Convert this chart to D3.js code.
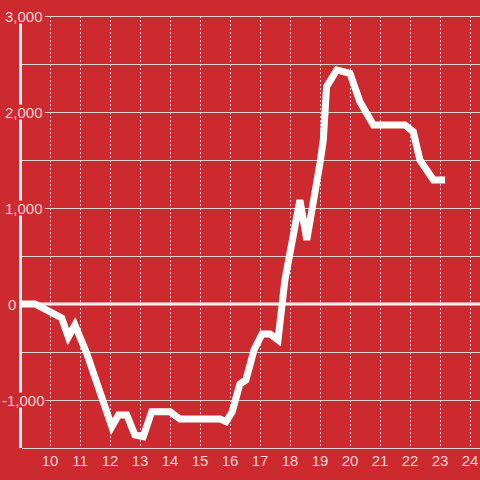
<!DOCTYPE html>
<html><head><meta charset="utf-8">
<script src="https://cdn.jsdelivr.net/npm/d3@7/dist/d3.min.js"></script>
<style>html,body{margin:0;padding:0;background:#CC2A2F;}svg{display:block;}</style>
</head><body>
<script>
const hours = [9.0, 9.5, 10.39, 10.61, 10.83, 11.22, 12.06, 12.28, 12.56, 12.83, 13.11, 13.39, 14.0, 14.33, 15.67, 15.87, 16.07, 16.33, 16.53, 16.8, 17.07, 17.33, 17.6, 17.83, 18.33, 18.56, 19.0, 19.11, 19.22, 19.56, 20.0, 20.33, 20.78, 21.83, 22.11, 22.33, 22.78, 23.17];
const values = [0, 0, -146, -344, -219, -510, -1278, -1156, -1156, -1365, -1382, -1122, -1122, -1198, -1198, -1225, -1125, -833, -792, -479, -312, -312, -375, 250, 1083, 667, 1469, 1708, 2264, 2438, 2403, 2107, 1865, 1865, 1795, 1500, 1292, 1292];
const xTicks = [10, 11, 12, 13, 14, 15, 16, 17, 18, 19, 20, 21, 22, 23, 24];
const yMajorTicks = [3000, 2000, 1000, 0, -1000];
const yMinorTicks = [2500, 1500, 500, -500];

const W = 480, H = 480;
const svg = d3.select("body").append("svg").attr("width", W).attr("height", H);
svg.append("rect").attr("width", W).attr("height", H).attr("fill", "#CC2A2F");

const x = d3.scaleLinear().domain([9, 24 + 1/3]).range([20, 480]);
const y = d3.scaleLinear().domain([-1500, 3000]).range([448, 16]);

const labelColor = "#f4d4d4";
const gridColor = "#d8d0d0";
const font = "Liberation Sans, Arial, sans-serif";

// vertical dotted grid
svg.append("g").selectAll("line").data(xTicks).join("line")
  .attr("x1", d => x(d) + 0.5).attr("x2", d => x(d) + 0.5)
  .attr("y1", y(3000)).attr("y2", y(-1500))
  .attr("stroke", gridColor).attr("stroke-width", 1).attr("stroke-dasharray", "2,2");

// minor horizontal grid
svg.append("g").selectAll("line").data(yMinorTicks).join("line")
  .attr("x1", 22).attr("x2", W)
  .attr("y1", d => Math.round(y(d)) + 0.5).attr("y2", d => Math.round(y(d)) + 0.5)
  .attr("stroke", gridColor).attr("stroke-width", 1);

// major horizontal grid (excluding 0)
svg.append("g").selectAll("line").data(yMajorTicks.filter(d => d !== 0)).join("line")
  .attr("x1", 45).attr("x2", W)
  .attr("y1", d => Math.round(y(d)) + 0.5).attr("y2", d => Math.round(y(d)) + 0.5)
  .attr("stroke", gridColor).attr("stroke-width", 1);

// x axis line
svg.append("line").attr("x1", 22).attr("x2", W)
  .attr("y1", y(-1500) + 0.5).attr("y2", y(-1500) + 0.5)
  .attr("stroke", gridColor).attr("stroke-width", 1);

// y axis line
svg.append("line").attr("x1", 20.5).attr("x2", 20.5)
  .attr("y1", y(3000)).attr("y2", y(-1500))
  .attr("stroke", "#f7f2f2").attr("stroke-width", 3);

// zero line
svg.append("line").attr("x1", 19).attr("x2", W)
  .attr("y1", y(0)).attr("y2", y(0))
  .attr("stroke", "#f7f2f2").attr("stroke-width", 3);

// x labels
const fmt = d3.format(",");
svg.append("g").selectAll("text").data(xTicks).join("text")
  .attr("x", d => x(d)).attr("y", 466)
  .attr("text-anchor", "middle")
  .attr("font-family", font).attr("font-size", 15)
  .attr("fill", labelColor).text(d => d);

// y labels with background
const yl = svg.append("g").selectAll("g").data(yMajorTicks).join("g");
yl.append("text")
  .attr("x", d => d === 0 ? 8 : (d < 0 ? 2 : 5)).attr("y", d => y(d) + 5.5)
  .attr("font-family", font).attr("font-size", 15)
  .attr("fill", labelColor).text(d => fmt(d).replace("−", "-"));
yl.each(function() {
  const g = d3.select(this);
  const bb = g.select("text").node().getBBox();
  g.insert("rect", "text").attr("x", bb.x - 1).attr("y", bb.y + 1).attr("width", bb.width + 2).attr("height", bb.height - 2)
    .attr("fill", "#CC2A2F");
});

// data line
const line = d3.line().x((d, i) => x(hours[i])).y(d => y(d));
svg.append("path").datum(values)
  .attr("d", line)
  .attr("fill", "none").attr("stroke", "#ffffff").attr("stroke-width", 7)
  .attr("stroke-linejoin", "miter").attr("stroke-linecap", "butt");
</script>
</body></html>
